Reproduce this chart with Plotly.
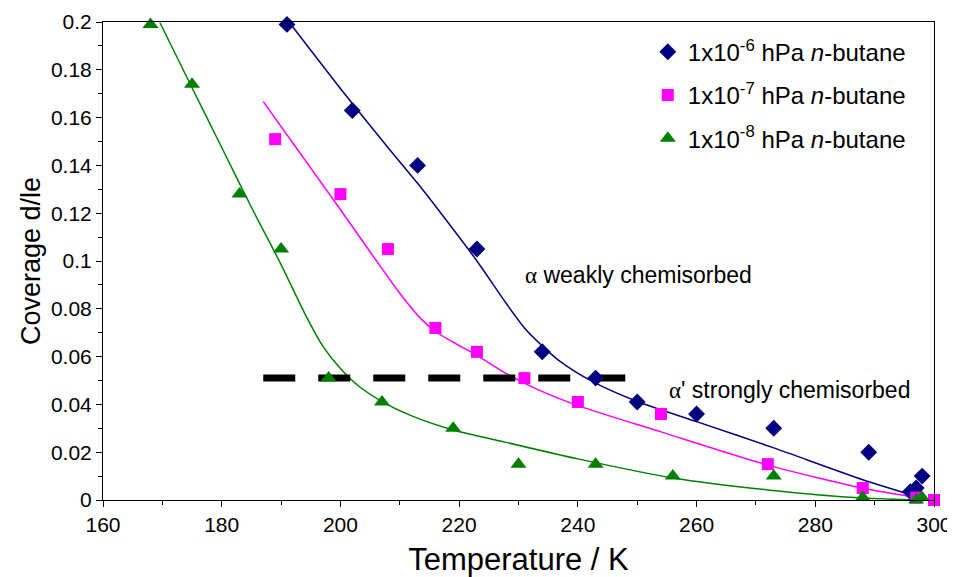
import plotly.graph_objects as go

# ---- measured data points ----
t_e6 = [191, 202, 213, 223, 234, 243, 250, 260, 273, 289, 296, 297, 298]
c_e6 = [0.199, 0.163, 0.140, 0.105, 0.062, 0.051, 0.041, 0.036, 0.030, 0.020, 0.0035, 0.005, 0.010]

t_e7 = [189, 200, 208, 216, 223, 231, 240, 254, 272, 288, 297, 300]
c_e7 = [0.151, 0.128, 0.105, 0.072, 0.062, 0.051, 0.041, 0.036, 0.015, 0.005, 0.001, 0.000]

t_e8 = [168, 175, 183, 190, 198, 207, 219, 230, 243, 256, 273, 288, 297, 298]
c_e8 = [0.199, 0.174, 0.128, 0.105, 0.051, 0.041, 0.030, 0.015, 0.015, 0.010, 0.010, 0.001, 0.000, 0.001]

# ---- fitted curves ----
fit_t_e6 = [191.5, 201, 208, 213, 218, 223, 228, 231, 234, 237, 242.5, 250, 260, 273, 288, 298]
fit_c_e6 = [0.1995, 0.169, 0.1475, 0.1325, 0.1165, 0.100, 0.082, 0.072, 0.0645, 0.058, 0.0495, 0.0412, 0.0328, 0.0218, 0.0085, 0.0008]

fit_t_e7 = [187, 199, 210, 213.5, 216, 219, 223, 227.5, 233, 240, 254, 272, 288, 298]
fit_c_e7 = [0.1667, 0.125, 0.0865, 0.076, 0.0705, 0.066, 0.0605, 0.0535, 0.0465, 0.0395, 0.0285, 0.0146, 0.0049, 0.0007]

fit_t_e8 = [169.6, 175, 180, 185, 190, 194, 197, 200, 203, 207, 212, 219, 226, 240, 256, 272, 288, 298]
fit_c_e8 = [0.1997, 0.1725, 0.1475, 0.1225, 0.0985, 0.078, 0.0645, 0.055, 0.0478, 0.0412, 0.0352, 0.0293, 0.0252, 0.0172, 0.0092, 0.0042, 0.0008, 0.0]

# ---- dashed divider ----
div_t = [187, 248]
div_c = [0.051, 0.051]

# ---- labels ----
legend_names = ["1x10<sup>-6</sup> hPa <i>n</i>-butane",
                "1x10<sup>-7</sup> hPa <i>n</i>-butane",
                "1x10<sup>-8</sup> hPa <i>n</i>-butane"]
x_ticks = [160, 180, 200, 220, 240, 260, 280, 300]
y_ticks = [0, 0.02, 0.04, 0.06, 0.08, 0.1, 0.12, 0.14, 0.16, 0.18, 0.2]
y_tick_text = ["0", "0.02", "0.04", "0.06", "0.08", "0.1", "0.12", "0.14", "0.16", "0.18", "0.2"]

NAVY = "#000080"
MAG = "#FF00FF"
GRN = "#008000"
FONT = "Liberation Sans"

fig = go.Figure()

# fitted curves
for ft, fc, col in [(fit_t_e6, fit_c_e6, NAVY), (fit_t_e7, fit_c_e7, MAG), (fit_t_e8, fit_c_e8, GRN)]:
    fig.add_trace(go.Scatter(x=ft, y=fc, mode="lines",
                             line=dict(color=col, width=1.5, shape="spline", smoothing=0.7),
                             showlegend=False, hoverinfo="skip", cliponaxis=False))

# dashed divider
fig.add_trace(go.Scatter(x=div_t, y=div_c, mode="lines", line=dict(color="black", width=7, dash="32px,23px"),
                         showlegend=False, hoverinfo="skip"))

# data markers
fig.add_trace(go.Scatter(x=t_e6, y=c_e6, mode="markers", name=legend_names[0], legendgroup="a",
                         marker=dict(symbol="diamond", size=13, color=NAVY), cliponaxis=False))
fig.add_trace(go.Scatter(x=t_e7, y=c_e7, mode="markers", name=legend_names[1], legendgroup="b",
                         marker=dict(symbol="square", size=12, color=MAG), cliponaxis=False))
fig.add_trace(go.Scatter(x=t_e8, y=c_e8, mode="markers", name=legend_names[2], legendgroup="c",
                         marker=dict(symbol="triangle-up", size=14, color=GRN), cliponaxis=False))

fig.update_layout(
    width=947, height=569,
    margin=dict(l=95, r=21, t=14, b=77, autoexpand=False),
    plot_bgcolor="white", paper_bgcolor="white",
    font=dict(family=FONT, color="black"),
    legend=dict(x=0.6556, y=0.984, xanchor="left", yanchor="top", bgcolor="rgba(0,0,0,0)",
                font=dict(size=24, family=FONT), tracegroupgap=9, traceorder="grouped"),
    xaxis=dict(range=[160, 300], tickvals=x_ticks, ticks="outside", ticklen=6, tickcolor="black",
               showline=True, linecolor="black", linewidth=1, mirror=True, showgrid=False, zeroline=False,
               automargin=False,
               tickfont=dict(size=21, family=FONT),
               minor=dict(dtick=10, ticks="outside", ticklen=4, tickcolor="black"),
               title=dict(text="Temperature / K", font=dict(size=31, family=FONT), standoff=15)),
    yaxis=dict(range=[0, 0.2], tickvals=y_ticks, ticktext=y_tick_text, ticks="outside", ticklen=6, tickcolor="black",
               showline=True, linecolor="black", linewidth=1, mirror=True, showgrid=False, zeroline=False,
               automargin=False,
               tickfont=dict(size=21, family=FONT),
               minor=dict(dtick=0.01, ticks="outside", ticklen=4, tickcolor="black"),
               title=dict(text="Coverage d/le", font=dict(size=27, family=FONT), standoff=2)),
)

fig.add_annotation(x=230.7, y=0.0941, xref="x", yref="y", xanchor="left", yanchor="middle", showarrow=False,
                   text="<span style='font-family:Liberation Serif'>α</span> weakly chemisorbed",
                   font=dict(size=23, family=FONT))
fig.add_annotation(x=255.1, y=0.046, xref="x", yref="y", xanchor="left", yanchor="middle", showarrow=False,
                   text="<span style='font-family:Liberation Serif'>α</span>' strongly chemisorbed",
                   font=dict(size=23, family=FONT))

fig.write_html("out.html")
